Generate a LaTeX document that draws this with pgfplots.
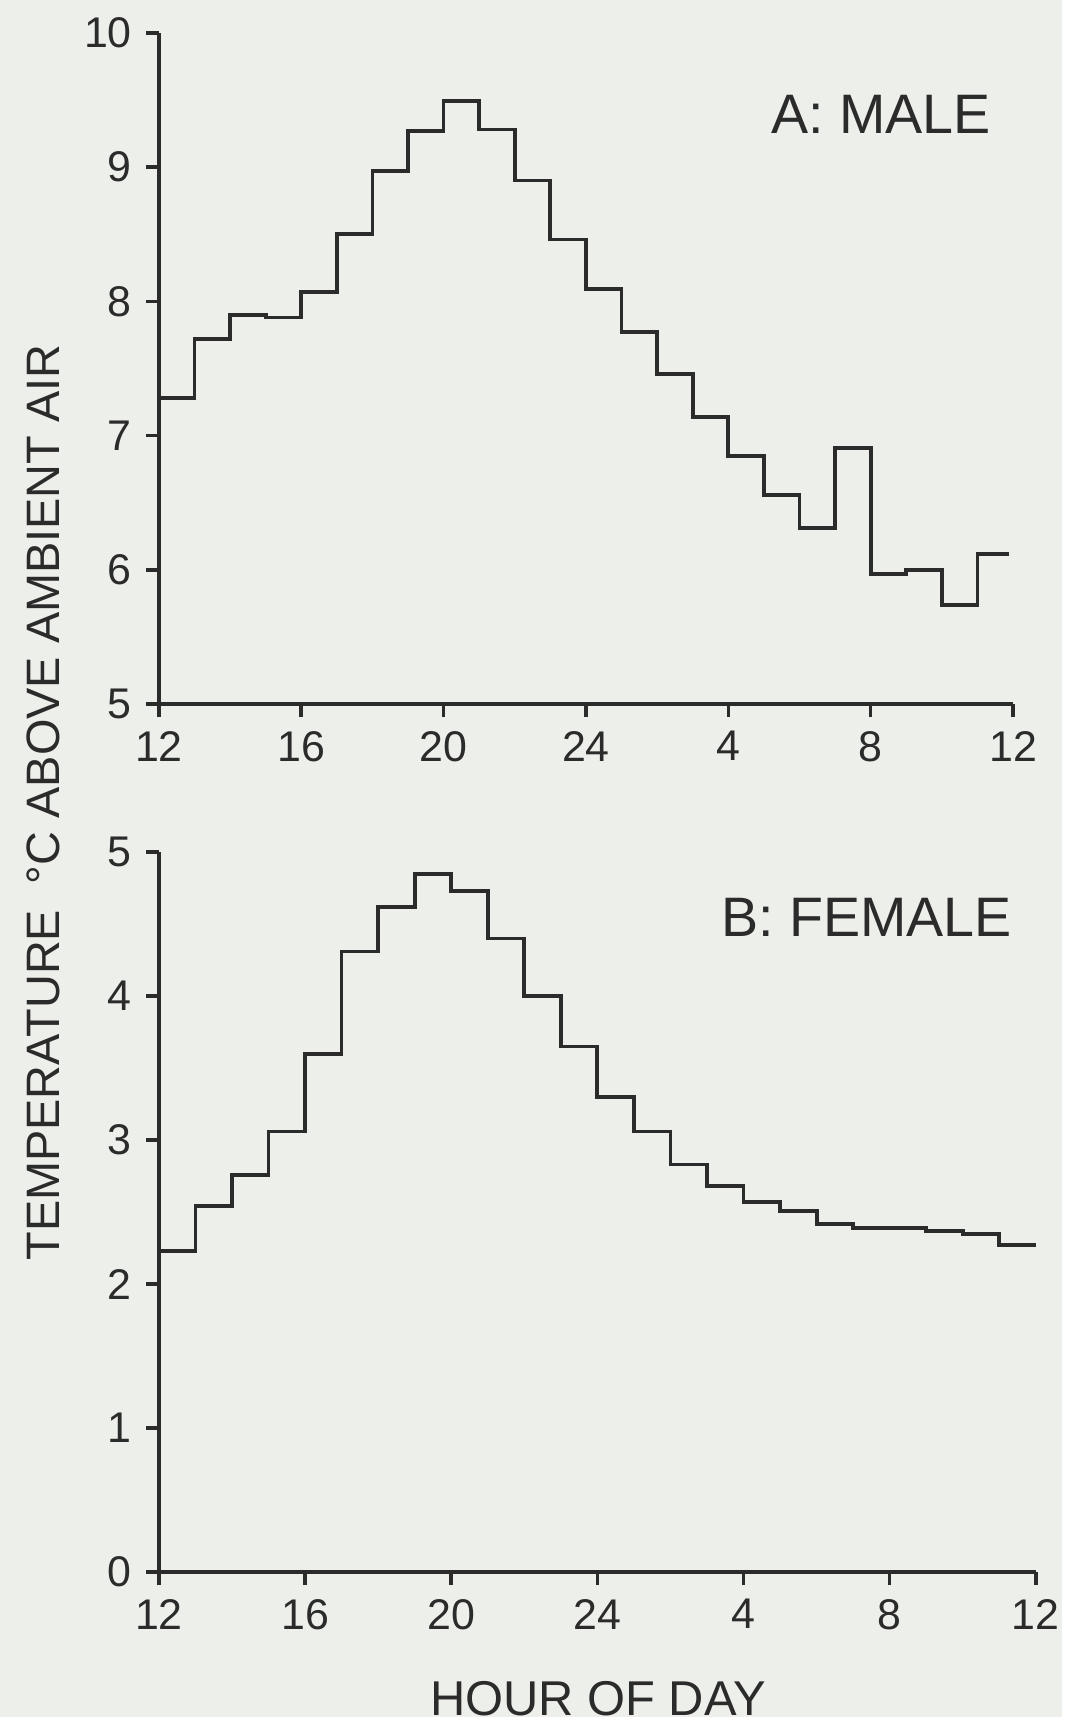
\documentclass[border=0pt]{standalone}
\usepackage{pgfplots}
\pgfplotsset{compat=1.18}
\usepackage{fontspec}
\setmainfont{Liberation Sans}
\definecolor{paper}{HTML}{EDEFEA}
\definecolor{ink}{HTML}{2B2B2B}
\pgfplotstableread{
x y
12 7.28
13 7.72
14 7.90
15 7.88
16 8.07
17 8.50
18 8.97
19 9.27
20 9.49
21 9.28
22 8.90
23 8.46
24 8.09
25 7.77
26 7.46
27 7.14
28 6.85
29 6.56
30 6.31
31 6.91
32 5.97
33 6.00
34 5.74
35 6.12
35.9 6.12
}\male
\pgfplotstableread{
x y
12 2.23
13 2.54
14 2.76
15 3.06
16 3.60
17 4.31
18 4.62
19 4.85
20 4.73
21 4.40
22 4.00
23 3.65
24 3.30
25 3.06
26 2.83
27 2.68
28 2.57
29 2.51
30 2.42
31 2.39
32 2.39
33 2.37
34 2.35
35 2.27
36 2.27
}\female
\begin{document}
\begin{tikzpicture}
\fill[paper] (0pt,0pt) rectangle (267.25pt,432.25pt);
\pgfplotsset{
  panel/.style={
    scale only axis, axis lines*=left, xmin=12, xmax=36,
    xtick={12,16,...,36}, xticklabels={12,16,20,24,4,8,12},
    tick align=outside, major tick length=3.3pt,
    every tick/.style={ink, line width=0.9pt},
    axis line style={ink, line width=0.9pt},
    tick label style={font=\fontsize{10.8}{12}\selectfont, text=ink},
    /pgf/number format/assume math mode=true,
    anchor=south west, clip=false,
  }
}
\begin{axis}[panel, at={(40pt,255pt)}, width=215pt, height=169pt,
  ymin=5, ymax=10, ytick={5,6,...,10}]
\addplot[const plot, ink, line width=0.95pt] table[x=x,y=y] {\male};
\node[anchor=east, inner sep=0pt, font=\fontsize{14}{16}\selectfont, text=ink] at (axis cs:35.4,9.39) {A: MALE};
\end{axis}
\begin{axis}[panel, at={(40pt,36.5pt)}, width=220.75pt, height=181.25pt,
  ymin=0, ymax=5, ytick={0,1,...,5}]
\addplot[const plot, ink, line width=0.95pt] table[x=x,y=y] {\female};
\node[anchor=east, inner sep=0pt, font=\fontsize{14}{16}\selectfont, text=ink] at (axis cs:35.37,4.545) {B: FEMALE};
\end{axis}
\node[rotate=90, font=\fontsize{11.8}{14}\selectfont, text=ink] at (11pt,230.25pt) {TEMPERATURE\hspace{0.55em}°C ABOVE AMBIENT AIR};
\node[font=\fontsize{12.3}{14}\selectfont, text=ink] at (150.5pt,4.7pt) {HOUR OF DAY};
\end{tikzpicture}
\end{document}
